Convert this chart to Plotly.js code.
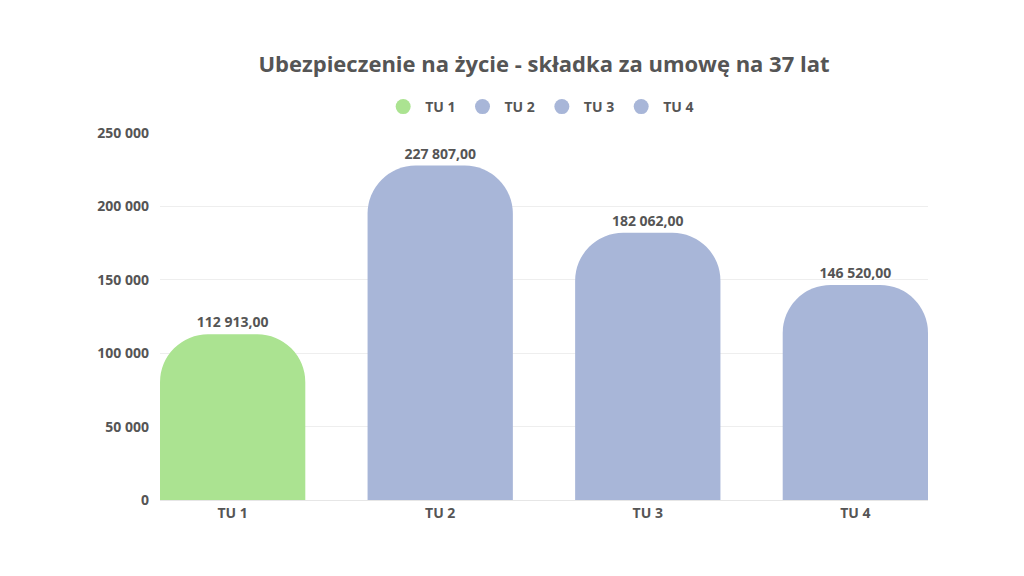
<!DOCTYPE html>
<html>
<head>
<meta charset="utf-8">
<script src="https://cdn.plot.ly/plotly-3.0.1.min.js"></script>
<style>
  html, body { margin: 0; padding: 0; background: #fff; }
  #chart { width: 1024px; height: 576px; }
</style>
</head>
<body>
<div id="chart"></div>
<script>
var categories = ['TU 1', 'TU 2', 'TU 3', 'TU 4'];
var premiums = [112913.00, 227807.00, 182062.00, 146520.00];
var barColors = ['#abe391', '#a8b6d8', '#a8b6d8', '#a8b6d8'];
var yTicks = [0, 50000, 100000, 150000, 200000, 250000];

var textGrey = '#555555';
var font = 'Open Sans, sans-serif';

// the bars themselves, one trace, colour per category
var traces = [{
  type: 'bar',
  x: categories,
  y: premiums,
  marker: { color: barColors },
  texttemplate: '%{y:,.2f}',
  textposition: 'outside',
  textfont: { family: font, size: 14, color: textGrey, weight: 'bold' },
  cliponaxis: false,
  showlegend: false,
  hoverinfo: 'x+y'
}];

// legend entries drawn as circles (no data of their own)
for (var i = 0; i < categories.length; i++) {
  traces.push({
    type: 'scatter',
    mode: 'markers',
    x: [null],
    y: [null],
    name: categories[i],
    marker: { color: barColors[i], size: 15, symbol: 'circle' },
    hoverinfo: 'skip'
  });
}

var layout = {
  width: 1024,
  height: 576,
  margin: { l: 160, r: 96, t: 133, b: 76 },
  paper_bgcolor: '#ffffff',
  plot_bgcolor: '#ffffff',
  separators: ', ',
  bargap: 0.3,
  barcornerradius: 48,
  font: { family: font, color: textGrey },
  title: {
    text: 'Ubezpieczenie na życie - składka za umowę na 37 lat',
    font: { family: font, size: 22, color: textGrey, weight: 'bold' },
    x: 0.5,
    xref: 'paper',
    xanchor: 'center',
    y: 1 - 64 / 576,
    yref: 'container',
    yanchor: 'middle'
  },
  legend: {
    orientation: 'h',
    x: 0.495,
    xanchor: 'center',
    xref: 'paper',
    y: 1 - 107 / 576,
    yref: 'container',
    yanchor: 'middle',
    font: { family: font, size: 14, color: textGrey, weight: 'bold' },
    itemsizing: 'trace',
    itemwidth: 34,
    tracegroupgap: 0
  },
  xaxis: {
    type: 'category',
    range: [-0.35, 3.35],
    showgrid: false,
    showline: true,
    linecolor: '#e6e6e6',
    linewidth: 1,
    ticks: '',
    tickfont: { family: font, size: 14, color: textGrey, weight: 'bold' },
    fixedrange: true
  },
  yaxis: {
    range: [0, 250000],
    tickvals: yTicks,
    tickformat: ',d',
    showgrid: true,
    gridcolor: '#eeeeee',
    zeroline: false,
    ticks: '',
    ticklabelstandoff: 10,
    tickfont: { family: font, size: 14, color: textGrey, weight: 'bold' },
    fixedrange: true
  }
};

Plotly.newPlot('chart', traces, layout, { displayModeBar: false, staticPlot: true });
</script>
</body>
</html>
